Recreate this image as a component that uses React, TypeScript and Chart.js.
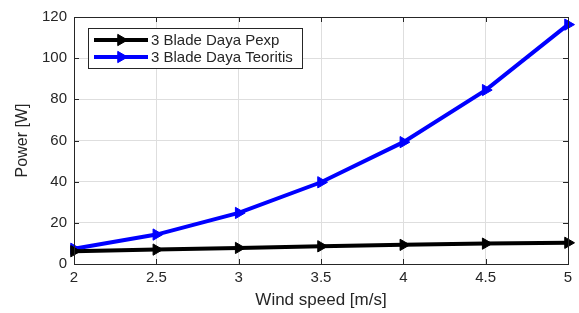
import React, { useEffect, useRef } from "react";
import { Chart, registerables } from "chart.js";

Chart.register(...registerables);

const windSpeed = [2, 2.5, 3, 3.5, 4, 4.5, 5];
const powerExp = [6.2, 7.0, 7.8, 8.6, 9.3, 9.9, 10.3];
const powerTheory = [7.4, 14.3, 24.8, 39.7, 59.2, 84.5, 116.3];
const seriesLabels = ["3 Blade Daya Pexp", "3 Blade Daya Teoritis"];
const seriesColors = ["#000000", "#0000ff"];
const xTicks = [2, 2.5, 3, 3.5, 4, 4.5, 5];
const yTicks = [0, 20, 40, 60, 80, 100, 120];

const FONT = "'Liberation Sans', Arial, Helvetica, sans-serif";
const TEXT = "#262626";

const frame = {
  id: "frame",
  afterDatasetsDraw(chart: any) {
    const { ctx, chartArea: a, scales } = chart;
    ctx.save();
    ctx.strokeStyle = TEXT;
    ctx.lineWidth = 1;
    const tl = 5;
    ctx.beginPath();
    for (const v of xTicks) {
      const x = Math.round(scales.x.getPixelForValue(v)) + 0.5;
      ctx.moveTo(x, a.bottom);
      ctx.lineTo(x, a.bottom - tl);
      ctx.moveTo(x, a.top);
      ctx.lineTo(x, a.top + tl);
    }
    for (const v of yTicks) {
      const y = Math.round(scales.y.getPixelForValue(v)) + 0.5;
      ctx.moveTo(a.left, y);
      ctx.lineTo(a.left + tl, y);
      ctx.moveTo(a.right, y);
      ctx.lineTo(a.right - tl, y);
    }
    ctx.stroke();
    ctx.strokeRect(Math.round(a.left) + 0.5, Math.round(a.top) + 0.5, Math.round(a.right - a.left), Math.round(a.bottom - a.top));
    ctx.restore();
  },
  afterDraw(chart: any) {
    const { ctx } = chart;
    ctx.save();
    const bx = 88.5, by = 28.5, bw = 214, bh = 40;
    ctx.fillStyle = "#ffffff";
    ctx.fillRect(bx, by, bw, bh);
    ctx.strokeStyle = TEXT;
    ctx.lineWidth = 1;
    ctx.strokeRect(bx, by, bw, bh);
    const rows = [40, 57];
    chart.data.datasets.forEach((ds: any, i: number) => {
      const y = rows[i];
      ctx.strokeStyle = ds.borderColor;
      ctx.lineWidth = 4;
      ctx.beginPath();
      ctx.moveTo(94, y);
      ctx.lineTo(148, y);
      ctx.stroke();
      const cx = 121, r = 6.5;
      ctx.fillStyle = ds.borderColor;
      ctx.beginPath();
      ctx.moveTo(cx + r, y);
      ctx.lineTo(cx - r / 2, y - r * 0.866);
      ctx.lineTo(cx - r / 2, y + r * 0.866);
      ctx.closePath();
      ctx.fill();
      ctx.lineWidth = 1;
      ctx.stroke();
      ctx.fillStyle = TEXT;
      ctx.font = `15px ${FONT}`;
      ctx.textBaseline = "middle";
      ctx.textAlign = "left";
      ctx.fillText(ds.label, 151, y + 1);
    });
    ctx.restore();
  },
};

export default function App() {
  const ref = useRef<HTMLCanvasElement>(null);
  useEffect(() => {
    if (!ref.current) return;
    const chart = new Chart(ref.current, {
      type: "line",
      data: {
        datasets: [powerExp, powerTheory].map((vals, i) => ({
          label: seriesLabels[i],
          data: windSpeed.map((x, j) => ({ x, y: vals[j] })),
          borderColor: seriesColors[i],
          backgroundColor: seriesColors[i],
          borderWidth: 4,
          pointStyle: "triangle",
          rotation: 90,
          pointRadius: 6.5,
          pointBorderWidth: 1,
          tension: 0,
          clip: false as any,
        })),
      },
      options: {
        animation: false,
        responsive: false,
        layout: { padding: { top: 17, right: 11, left: 0, bottom: 0 } },
        plugins: { legend: { display: false }, tooltip: { enabled: false } },
        scales: {
          x: {
            type: "linear",
            min: 2,
            max: 5,
            afterFit: (s: any) => { s.height = 49; },
            afterBuildTicks: (s: any) => { s.ticks = xTicks.map((v) => ({ value: v })); },
            grid: { color: "#dedede", lineWidth: 1, drawTicks: false },
            border: { display: false },
            ticks: { color: TEXT, font: { family: FONT, size: 15 }, padding: 5, maxRotation: 0, callback: (v: any) => String(v) },
            title: { display: true, text: "Wind speed [m/s]", color: TEXT, font: { family: FONT, size: 17 }, padding: { top: 0, bottom: 2 } },
          },
          y: {
            type: "linear",
            min: 0,
            max: 120,
            afterFit: (s: any) => { s.width = 74; },
            afterBuildTicks: (s: any) => { s.ticks = yTicks.map((v) => ({ value: v })); },
            grid: { color: "#dedede", lineWidth: 1, drawTicks: false },
            border: { display: false },
            ticks: { color: TEXT, font: { family: FONT, size: 15 }, padding: 7, callback: (v: any) => String(v) },
            title: { display: true, text: "Power [W]", color: TEXT, font: { family: FONT, size: 16 }, padding: { top: 13, bottom: 0 } },
          },
        },
      },
      plugins: [frame],
    });
    return () => chart.destroy();
  }, []);
  return (
    <div style={{ position: "fixed", left: 0, top: 0, width: 579, height: 313, background: "#fff" }}>
      <canvas ref={ref} width={579} height={313} style={{ display: "block", width: 579, height: 313 }} />
    </div>
  );
}
